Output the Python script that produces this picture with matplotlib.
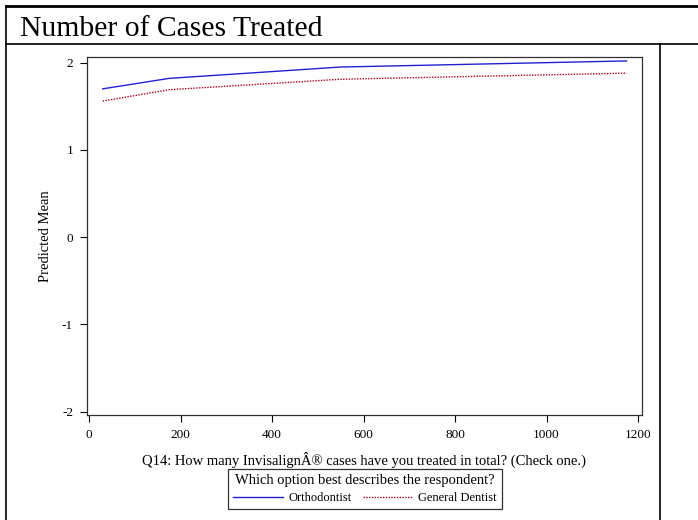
import matplotlib
matplotlib.use('Agg')
import matplotlib.pyplot as plt
from matplotlib.lines import Line2D

plt.rcParams['font.family'] = ['Liberation Serif', 'DejaVu Serif']
plt.rcParams['axes.unicode_minus'] = False

# predicted means by number of cases treated
cases = [30, 175, 550, 1175]
ortho = [1.70, 1.82, 1.95, 2.02]
general = [1.56, 1.69, 1.81, 1.88]

x_ticks = [0, 200, 400, 600, 800, 1000, 1200]
y_ticks = [-2, -1, 0, 1, 2]

W, H = 698, 520
fig = plt.figure(figsize=(W / 100, H / 100), dpi=100)

# table frame around the output
def fline(x0, y0, x1, y1, lw=1.0):
    fig.add_artist(Line2D([x0 / W, x1 / W], [1 - y0 / H, 1 - y1 / H],
                          color='black', lw=lw, transform=fig.transFigure))

fline(6, 6, W, 6, lw=2)
fline(6, 6, 6, H, lw=1.2)
fline(6, 44, W, 44, lw=1.2)
fline(660, 44, 660, H, lw=1.2)

fig.text(20 / W, 1 - 36 / H, 'Number of Cases Treated', fontsize=21.3,
         ha='left', va='baseline')

ax = fig.add_axes([87 / W, 1 - 415 / H, (642 - 87) / W, (415 - 57) / H])
ax.plot(cases, ortho, color='#2020d0', lw=1.0, label='Orthodontist')
ax.plot(cases, general, color='#b00020', lw=1.0, linestyle=(0, (1, 1)),
        label='General Dentist')

ax.set_xlim(-4.4, 1208.7)
ax.set_ylim(-2.038, 2.065)
ax.set_xticks(x_ticks)
ax.set_yticks(y_ticks)
ax.tick_params(direction='out', length=5, width=0.8, labelsize=9.5, pad=5)
for s in ax.spines.values():
    s.set_linewidth(0.9)
    s.set_color('#303030')

ax.set_xlabel('Q14: How many InvisalignÂ® cases have you treated in total? (Check one.)',
              fontsize=10.5, labelpad=8)
ax.set_ylabel('Predicted Mean', fontsize=10.5, labelpad=7)

leg = fig.legend(loc='center', bbox_to_anchor=(365 / W, 1 - 489 / H), ncol=2,
                 title='Which option best describes the respondent?',
                 fontsize=9, title_fontsize=10.5, frameon=True, fancybox=False,
                 edgecolor='black', handlelength=4, borderpad=0.4,
                 borderaxespad=0, columnspacing=0.9, handletextpad=0.4,
                 labelspacing=0.45)
leg.get_frame().set_linewidth(0.9)

fig.savefig('out.png', dpi=100)
